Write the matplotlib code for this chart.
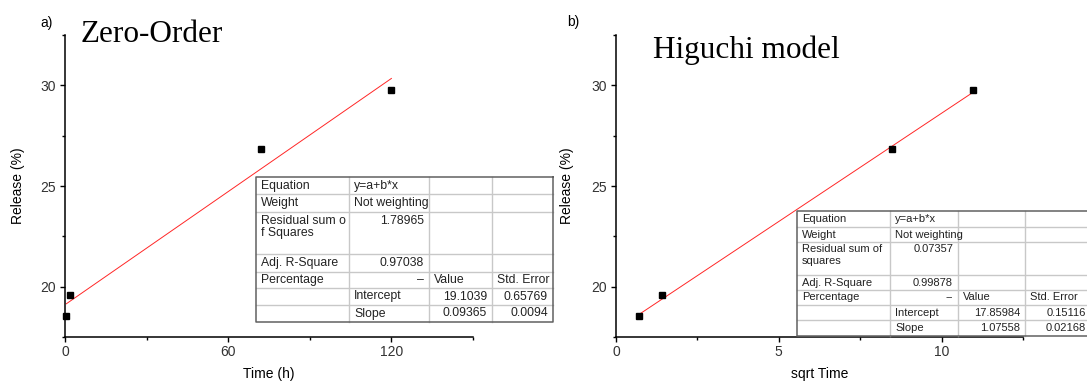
import numpy as np
import matplotlib.pyplot as plt
from matplotlib.patches import Rectangle

# release data
time_h = [0.5, 2, 72, 120]
release = [18.53, 19.57, 26.83, 29.75]
sqrt_time = np.sqrt(time_h)

# fit results (from the tables)
zero_a, zero_b = 19.1039, 0.09365
higuchi_a, higuchi_b = 17.85984, 1.07558

zero_table = [
    ["Equation", "y=a+b*x", "", ""],
    ["Weight", "Not weighting", "", ""],
    ["Residual sum o\nf Squares", "1.78965", "", ""],
    ["Adj. R-Square", "0.97038", "", ""],
    ["Percentage", "\u2013", "Value", "Std. Error"],
    ["", "Intercept", "19.1039", "0.65769"],
    ["", "Slope", "0.09365", "0.0094"],
]
higuchi_table = [
    ["Equation", "y=a+b*x", "", ""],
    ["Weight", "Not weighting", "", ""],
    ["Residual sum of\nsquares", "0.07357", "", ""],
    ["Adj. R-Square", "0.99878", "", ""],
    ["Percentage", "--", "Value", "Std. Error"],
    ["", "Intercept", "17.85984", "0.15116"],
    ["", "Slope", "1.07558", "0.02168"],
]

W, H = 1087, 381
plt.rcParams['font.family'] = ['Liberation Sans', 'DejaVu Sans']
fig = plt.figure(figsize=(W / 100, H / 100), dpi=100)

ax1 = fig.add_axes([65 / W, 1 - 337 / H, 408 / W, 302 / H])
ax2 = fig.add_axes([616 / W, 1 - 337 / H, 407 / W, 302 / H])


def style(ax, xmax, xmaj, xmin, xlabel, ylab_x):
    ax.set_xlim(0, xmax)
    ax.set_ylim(17.5, 32.5)
    ax.spines[['top', 'right']].set_visible(False)
    for s in ['left', 'bottom']:
        ax.spines[s].set_linewidth(1.1)
    ax.set_xticks(xmaj)
    ax.set_xticks(xmin, minor=True)
    ax.set_yticks([20, 25, 30])
    ax.set_yticks([17.5, 22.5, 27.5, 32.5], minor=True)
    ax.tick_params(which='major', length=3.6, width=1, labelsize=10, labelcolor='#333333')
    ax.tick_params(which='minor', length=2.4, width=1)
    ax.tick_params(axis='x', which='major', pad=2)
    ax.tick_params(axis='y', which='major', pad=3)
    ax.set_xlabel(xlabel, fontsize=10)
    ax.set_ylabel("Release (%)", fontsize=10)
    ax.xaxis.set_label_coords(0.5, -0.098)
    ax.yaxis.set_label_coords(ylab_x, 0.5)


style(ax1, 150, [0, 60, 120], [30, 90, 150], "Time (h)", -0.099)
style(ax2, 12.5, [0, 5, 10], [2.5, 7.5, 12.5], "sqrt Time", -0.102)

for ax, x, a, b in [(ax1, np.array(time_h), zero_a, zero_b),
                    (ax2, sqrt_time, higuchi_a, higuchi_b)]:
    xs = np.array([x.min(), x.max()])
    ax.plot(xs, a + b * xs, color='red', lw=0.7, alpha=0.85)
    ax.plot(x, release, 's', color='black', ms=4.5, clip_on=False, zorder=3)


def px_text(x, y, s, **kw):
    fig.text(x / W, 1 - y / H, s, **kw)


px_text(81, 42, "Zero-Order", family='Liberation Serif', fontsize=22.5, va='baseline')
px_text(653, 58, "Higuchi model", family='Liberation Serif', fontsize=22.5, va='baseline')
px_text(40, 22.5, "a)", fontsize=10, va='center')
px_text(567, 22, "b)", fontsize=10, va='center')

# overlay for the fit tables, in pixel coordinates
tab = fig.add_axes([0, 0, 1, 1])
tab.set_xlim(0, W)
tab.set_ylim(H, 0)
tab.axis('off')


def draw_table(cells, cols, rows, fs, lsp):
    tab.add_patch(Rectangle((cols[0], rows[0]), cols[-1] - cols[0], rows[-1] - rows[0],
                            facecolor='white', edgecolor='none', clip_on=False))
    for y in rows[1:-1]:
        tab.plot([cols[0], cols[-1]], [y, y], color='#c8c8c8', lw=1, clip_on=False)
    for x in cols[1:-1]:
        tab.plot([x, x], [rows[0], rows[-1]], color='#c8c8c8', lw=1, clip_on=False)
    tab.plot([cols[-1], cols[0], cols[0], cols[-1], cols[-1]],
             [rows[0], rows[0], rows[-1], rows[-1], rows[0]],
             color='#606060', lw=1.1, clip_on=False)
    for i, row in enumerate(cells):
        tall = any("\n" in s for s in row)
        for j, s in enumerate(row):
            if not s:
                continue
            right = s[0].isdigit() or s in ("\u2013", "--")
            x = cols[j + 1] - 5 if right else cols[j] + 5
            if tall:
                y, va = rows[i] + 2.5, 'top'
            else:
                y, va = (rows[i] + rows[i + 1]) / 2, 'center'
            tab.text(x, y, s, fontsize=fs, ha='right' if right else 'left', va=va,
                     color='#222222', linespacing=lsp, clip_on=False)


draw_table(zero_table, [256, 349, 429, 492, 553],
           [177, 194, 212, 254, 272, 288, 305, 322], 8.8, 1.1)
draw_table(higuchi_table, [797, 890, 958, 1025, 1091],
           [211, 227, 242, 275, 290, 305, 320, 336], 8, 1.2)

fig.savefig("out.png", dpi=100)
